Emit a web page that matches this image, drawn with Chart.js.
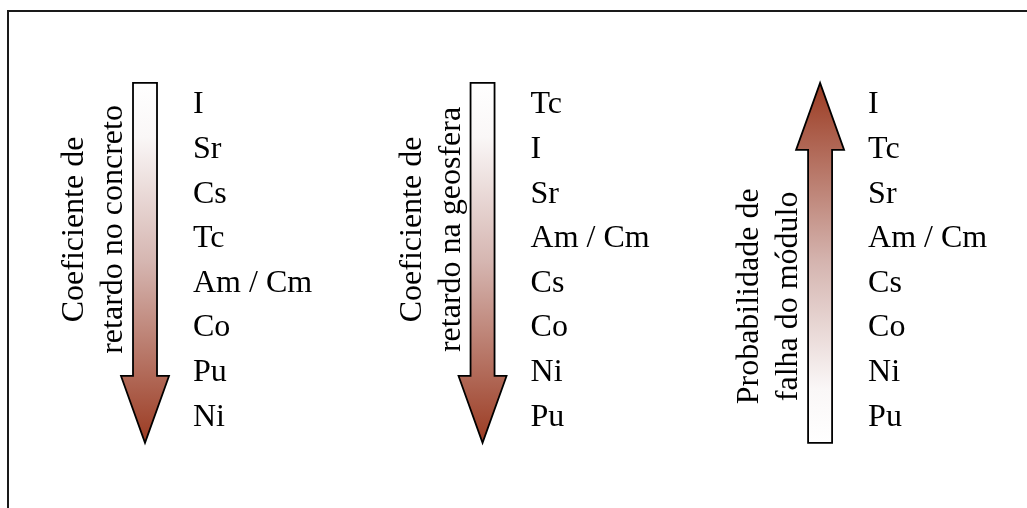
<!DOCTYPE html>
<html>
<head>
<meta charset="utf-8">
<script src="https://cdn.jsdelivr.net/npm/chart.js@4.4.1/dist/chart.umd.min.js"></script>
<style>
    html, body { margin: 0; padding: 0; background: #ffffff; }
    #chart { display: block; }
</style>
</head>
<body>
<canvas id="chart" width="1027" height="508"></canvas>
<script>
// Ordering of radionuclides for each criterion (top to bottom)
const concreteOrder = ['I', 'Sr', 'Cs', 'Tc', 'Am / Cm', 'Co', 'Pu', 'Ni'];
const geosphereOrder = ['Tc', 'I', 'Sr', 'Am / Cm', 'Cs', 'Co', 'Ni', 'Pu'];
const failureOrder = ['I', 'Tc', 'Sr', 'Am / Cm', 'Cs', 'Co', 'Ni', 'Pu'];

const arrowTitles = [
    ['Coeficiente de', 'retardo no concreto'],
    ['Coeficiente de', 'retardo na geosfera'],
    ['Probabilidade de', 'falha do módulo']
];
const arrowDirections = ['down', 'down', 'up'];

const FONT = "'Liberation Serif', 'Times New Roman', serif";
const DARK = '#9b3b22';

function toPoints(order, col) {
    return order.map((name, i) => ({ x: col, y: i, name }));
}

const diagramPlugin = {
    id: 'diagram',
    beforeDraw(chart) {
        const { ctx, width, height } = chart;
        ctx.save();
        ctx.fillStyle = '#ffffff';
        ctx.fillRect(0, 0, width, height);
        // frame (only top and left edges are visible)
        ctx.strokeStyle = '#1a1a1a';
        ctx.lineWidth = 2;
        ctx.beginPath();
        ctx.moveTo(width, 11);
        ctx.lineTo(8, 11);
        ctx.lineTo(8, height);
        ctx.stroke();
        ctx.restore();
    },
    afterDatasetsDraw(chart) {
        const { ctx, scales } = chart;
        const xs = scales.x, ys = scales.y;
        chart.data.datasets.forEach((ds, di) => {
            const cx = xs.getPixelForValue(di);
            const top = ys.getPixelForValue(-0.45);
            const bottom = ys.getPixelForValue(7.62);
            const headLen = ys.getPixelForValue(1.5) - ys.getPixelForValue(0);
            const shaftW = 12, headW = 24;
            const down = arrowDirections[di] === 'down';

            ctx.save();
            ctx.beginPath();
            let shaftTop, shaftBottom;
            if (down) {
                const hb = bottom - headLen;
                shaftTop = top; shaftBottom = hb;
                ctx.moveTo(cx - shaftW, top);
                ctx.lineTo(cx + shaftW, top);
                ctx.lineTo(cx + shaftW, hb);
                ctx.lineTo(cx + headW, hb);
                ctx.lineTo(cx, bottom);
                ctx.lineTo(cx - headW, hb);
                ctx.lineTo(cx - shaftW, hb);
            } else {
                const hb = top + headLen;
                shaftTop = hb; shaftBottom = bottom;
                ctx.moveTo(cx - shaftW, bottom);
                ctx.lineTo(cx + shaftW, bottom);
                ctx.lineTo(cx + shaftW, hb);
                ctx.lineTo(cx + headW, hb);
                ctx.lineTo(cx, top);
                ctx.lineTo(cx - headW, hb);
                ctx.lineTo(cx - shaftW, hb);
            }
            ctx.closePath();
            const grad = ctx.createLinearGradient(0, down ? top : bottom, 0, down ? bottom : top);
            grad.addColorStop(0, '#ffffff');
            grad.addColorStop(0.15, '#faf7f7');
            grad.addColorStop(0.5, '#d5b5b0');
            grad.addColorStop(1, DARK);
            ctx.fillStyle = grad;
            ctx.fill();
            ctx.strokeStyle = '#000000';
            ctx.lineWidth = 1.8;
            ctx.lineJoin = 'miter';
            ctx.stroke();

            // rotated title, centred on the shaft
            const midY = (shaftTop + shaftBottom) / 2;
            ctx.fillStyle = '#000000';
            ctx.font = '32px ' + FONT;
            ctx.textAlign = 'center';
            ctx.textBaseline = 'middle';
            const offsets = [-70, -31];
            arrowTitles[di].forEach((line, li) => {
                ctx.save();
                ctx.translate(cx + offsets[li], midY);
                ctx.rotate(-Math.PI / 2);
                ctx.fillText(line, 0, 0);
                ctx.restore();
            });

            // element labels
            ctx.textAlign = 'left';
            const meta = chart.getDatasetMeta(di);
            meta.data.forEach((pt, pi) => {
                ctx.fillText(ds.data[pi].name, pt.x + 48, pt.y + 2);
            });
            ctx.restore();
        });
    }
};

new Chart(document.getElementById('chart'), {
    type: 'scatter',
    data: {
        datasets: [
            { label: 'concreto', data: toPoints(concreteOrder, 0) },
            { label: 'geosfera', data: toPoints(geosphereOrder, 1) },
            { label: 'falha', data: toPoints(failureOrder, 2) }
        ]
    },
    options: {
        responsive: false,
        animation: false,
        layout: { padding: 0 },
        elements: { point: { radius: 0, hoverRadius: 0 } },
        plugins: { legend: { display: false }, tooltip: { enabled: false } },
        scales: {
            x: { type: 'linear', display: false, min: -0.4296, max: 2.613 },
            y: { type: 'linear', display: false, reverse: true, min: -2.309, max: 9.08 }
        }
    },
    plugins: [diagramPlugin]
});
</script>
</body>
</html>
